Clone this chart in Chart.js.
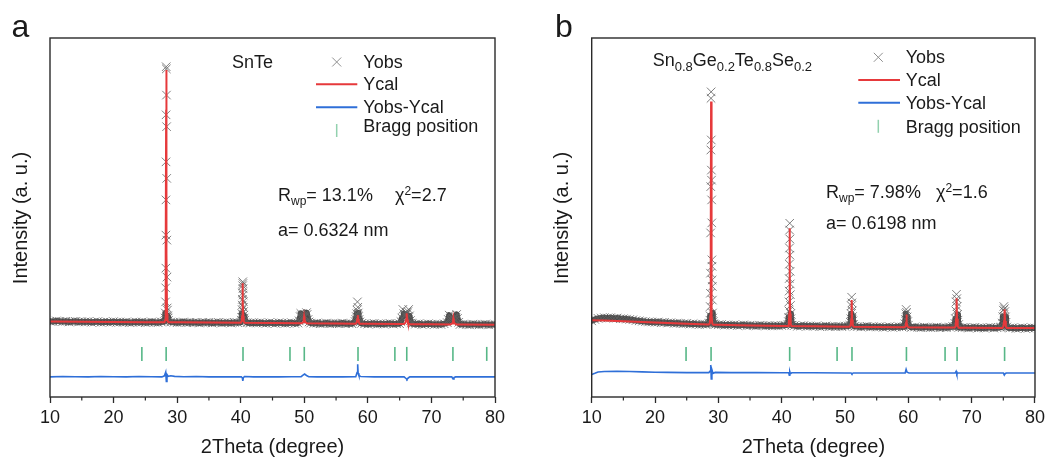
<!DOCTYPE html>
<html>
<head>
<meta charset="utf-8">
<script src="https://cdn.jsdelivr.net/npm/chart.js@4.4.1/dist/chart.umd.min.js"></script>
<style>
  html, body { margin: 0; padding: 0; background: #fff; }
  #wrap { position: relative; width: 1049px; height: 457px; overflow: hidden; }
  canvas { position: absolute; top: 0; }
  #panelA { left: 0; }
  #panelB { left: 525px; }
</style>
</head>
<body>
<div id="wrap">
  <canvas id="panelA" width="525" height="457"></canvas>
  <canvas id="panelB" width="524" height="457"></canvas>
</div>
<script>
// ---------------------------------------------------------------
// Rietveld refinement data (2Theta in degrees, intensity in a.u.)
// ---------------------------------------------------------------
const scanStart = 10, scanStep = 0.5;           // background scan grid
const xTicks = [10, 20, 30, 40, 50, 60, 70, 80];
const xMinorTicks = [15, 25, 35, 45, 55, 65, 75];

// --- SnTe ---
const obsBackgroundA = [
  21.1, 21.0, 21.2, 21.1, 21.0, 21.1, 20.9, 21.0, 21.1, 20.9,
  21.0, 20.9, 21.0, 20.8, 20.9, 21.0, 20.8, 20.9, 20.9, 20.8,
  21.0, 20.8, 20.9, 20.8, 20.9, 20.7, 20.8, 20.9, 20.8, 20.9,
  20.7, 20.8, 20.9, 20.8, 20.7, 20.9, 21.0, 21.1, 20.9, 20.8,
  20.7, 20.8, 20.9, 20.7, 20.8, 20.7, 20.8, 20.6, 20.8, 20.7,
  20.8, 20.6, 20.7, 20.8, 20.6, 20.7, 20.7, 20.6, 20.8, 20.7,
  20.8, 21.0, 20.7, 20.6, 20.7, 20.6, 20.7, 20.6, 20.5, 20.7,
  20.6, 20.5, 20.7, 20.6, 20.5, 20.6, 20.7, 20.5, 20.6, 20.8,
  20.9, 20.8, 20.6, 20.5, 20.6, 20.4, 20.5, 20.6, 20.4, 20.5,
  20.5, 20.4, 20.6, 20.4, 20.5, 20.4, 20.8, 20.9, 20.5, 20.4,
  20.3, 20.4, 20.5, 20.3, 20.4, 20.3, 20.4, 20.5, 20.3, 20.4,
  20.4, 20.6, 21.0, 21.2, 20.4, 20.3, 20.4, 20.2, 20.3, 20.4,
  20.3, 20.2, 20.3, 20.2, 20.4, 20.6, 20.8, 20.7, 20.3, 20.2,
  20.3, 20.2, 20.1, 20.3, 20.2, 20.1, 20.2, 20.3, 20.1, 20.2,
  20.2
];
const obsPeaksA = [
  [[28.10,22.0],[28.14,23.4],[28.18,26.5],[28.20,30.4],[28.22,35.9],[28.23,45.1],[28.24,54.9],
   [28.25,65.5],[28.26,78.6],[28.28,92.0],[28.30,91.4],[28.32,84.1],[28.34,75.3],[28.36,60.9],
   [28.38,43.7],[28.40,33.4],[28.43,24.8],[28.47,24.2],[28.52,22.6],[28.58,22.0],[28.64,21.3]],
  [[40.10,21.4],[40.16,22.2],[40.20,23.2],[40.22,24.3],[40.24,25.6],[40.26,27.2],[40.28,29.0],
   [40.30,31.0],[40.32,32.1],[40.34,31.6],[40.36,30.2],[40.38,28.4],[40.40,26.6],[40.42,25.0],
   [40.44,23.8],[40.48,22.8],[40.54,22.0],[40.62,21.4]],
  [[49.20,21.2],[49.35,22.4],[49.45,23.3],[49.55,22.6],[49.70,21.9],[49.85,22.3],[49.95,22.8],
   [50.05,22.6],[50.20,22.5],[50.35,23.5],[50.45,23.0],[50.60,21.6],[50.75,20.9]],
  [[58.00,21.0],[58.10,21.6],[58.18,22.4],[58.24,23.2],[58.30,24.2],[58.36,26.5],[58.42,25.0],
   [58.48,23.4],[58.54,22.4],[58.62,21.6],[58.75,20.9]],
  [[65.20,21.0],[65.35,22.0],[65.50,24.4],[65.65,23.2],[65.80,22.6],[65.95,23.0],[66.05,23.6],
   [66.15,23.2],[66.30,23.8],[66.42,24.4],[66.55,22.6],[66.70,21.3],[66.85,20.6]],
  [[72.50,20.7],[72.65,21.6],[72.80,22.8],[72.95,21.9],[73.15,21.3],[73.35,21.7],[73.50,21.9],
   [73.70,21.5],[73.85,22.2],[73.97,23.0],[74.10,21.9],[74.30,20.8]]
];
const calcBackgroundA = [[10,21.0],[15,20.95],[20,20.9],[25,20.85],[30,20.8],[35,20.75],[40,20.7],
  [45,20.6],[50,20.55],[55,20.45],[60,20.4],[65,20.35],[70,20.25],[75,20.2],[80,20.15]];
const calcPeaksA = [
  [[28.00,20.83],[28.10,21.4],[28.17,23.2],[28.23,40],[28.27,80],[28.29,91.1],[28.31,80],[28.35,40],[28.41,23.2],[28.48,21.4],[28.60,20.8]],
  [[40.00,20.7],[40.15,21.1],[40.22,22.5],[40.27,27],[40.31,31.7],[40.35,27],[40.40,22.5],[40.47,21.1],[40.60,20.69]],
  [[49.60,20.56],[49.80,20.85],[49.90,21.4],[49.97,22.4],[50.05,21.4],[50.15,20.85],[50.40,20.54]],
  [[58.10,20.42],[58.25,20.8],[58.34,21.7],[58.41,22.8],[58.48,21.7],[58.57,20.8],[58.70,20.41]],
  [[65.70,20.34],[65.90,20.7],[66.00,21.5],[66.10,23.3],[66.20,21.5],[66.30,20.7],[66.50,20.33]],
  [[73.00,20.22],[73.25,20.5],[73.38,21.0],[73.45,21.9],[73.52,21.0],[73.65,20.5],[73.90,20.21]]
];
const diffA = [[10,5.6],[12,5.7],[14,5.65],[16,5.6],[18,5.7],[20,5.65],[22,5.6],[24,5.7],[26,5.65],
  [27.6,5.6],[28.0,5.9],[28.2,6.9],[28.3,4.3],[28.4,6.3],[28.6,5.75],[29.0,5.9],[29.6,5.75],[31,5.65],
  [33,5.7],[35,5.6],[37,5.65],[39,5.6],[40.1,5.65],[40.25,5.35],[40.33,4.5],[40.42,5.4],[40.6,5.7],
  [42,5.6],[44,5.65],[46,5.6],[48,5.65],[49.5,5.65],[49.8,6.1],[50.05,6.4],[50.35,6.0],[50.7,5.65],
  [52,5.6],[54,5.65],[56,5.6],[58.1,5.65],[58.3,6.8],[58.4,9.1],[58.47,6.6],[58.6,5.9],[58.9,5.7],
  [61,5.6],[63,5.65],[65.7,5.6],[66.0,5.15],[66.15,4.9],[66.35,5.3],[66.6,5.6],[68,5.6],[70,5.65],
  [72,5.6],[73.2,5.6],[73.4,5.0],[73.55,5.4],[73.8,5.6],[76,5.65],[78,5.6],[80,5.6]];
const braggA = [24.45, 28.27, 40.36, 47.75, 50.0, 58.45, 64.25, 66.12, 73.38, 78.7];

// --- Sn0.8Ge0.2Te0.8Se0.2 ---
const obsBackgroundB = [
  21.2, 21.6, 21.9, 22.0, 22.1, 22.0, 22.1, 21.9, 22.0, 21.8,
  21.8, 21.7, 21.6, 21.5, 21.3, 21.2, 21.1, 21.0, 20.9, 20.9,
  20.8, 20.9, 20.7, 20.8, 20.6, 20.7, 20.5, 20.6, 20.5, 20.4,
  20.5, 20.3, 20.4, 20.3, 20.2, 20.3, 20.2, 20.4, 20.5, 20.2,
  20.1, 20.2, 20.0, 20.1, 20.0, 20.1, 19.9, 20.0, 20.1, 19.9,
  20.0, 19.9, 19.8, 20.0, 19.9, 19.8, 19.9, 19.8, 19.9, 19.8,
  19.9, 20.0, 20.1, 19.8, 19.9, 19.7, 19.8, 19.9, 19.7, 19.8,
  19.7, 19.8, 19.6, 19.7, 19.8, 19.6, 19.7, 19.6, 19.7, 19.6,
  19.7, 19.8, 19.9, 19.7, 19.6, 19.5, 19.6, 19.7, 19.5, 19.6,
  19.5, 19.6, 19.4, 19.5, 19.6, 19.4, 19.5, 19.6, 19.5, 19.7,
  19.6, 19.4, 19.5, 19.4, 19.3, 19.5, 19.4, 19.3, 19.4, 19.5,
  19.3, 19.4, 19.3, 19.5, 19.6, 19.8, 19.4, 19.3, 19.4, 19.2,
  19.3, 19.4, 19.2, 19.3, 19.2, 19.3, 19.4, 19.2, 19.3, 19.4,
  19.6, 19.5, 19.2, 19.3, 19.1, 19.2, 19.3, 19.1, 19.2, 19.3,
  19.2
];
const obsPeaksB = [
  [[28.60,20.6],[28.66,21.4],[28.70,22.6],[28.72,25.2],[28.74,28.9],[28.76,34.5],[28.78,45.7],
   [28.80,58.6],[28.82,68.8],[28.84,83.2],[28.86,85.0],[28.88,71.6],[28.90,63.2],[28.92,60.4],
   [28.94,54.9],[28.96,48.5],[28.98,38.2],[29.00,36.4],[29.02,32.6],[29.04,30.8],[29.06,27.0],
   [29.08,23.4],[29.12,22.0],[29.18,21.0],[29.26,20.4]],
  [[41.00,20.2],[41.06,21.0],[41.10,22.2],[41.13,24.0],[41.15,26.5],[41.17,29.5],[41.19,33.0],
   [41.21,37.0],[41.23,41.5],[41.25,46.5],[41.27,48.4],[41.29,44.0],[41.31,39.5],[41.33,35.0],
   [41.35,31.5],[41.37,28.5],[41.39,25.5],[41.42,23.2],[41.46,21.8],[41.52,20.8],[41.60,20.0]],
  [[50.75,20.0],[50.85,20.8],[50.92,21.8],[50.97,23.2],[51.01,25.4],[51.05,27.8],[51.09,26.2],
   [51.13,24.0],[51.18,22.4],[51.25,21.2],[51.35,20.2]],
  [[59.35,19.6],[59.45,20.4],[59.53,21.6],[59.60,23.2],[59.66,24.4],[59.72,23.6],[59.80,22.3],
   [59.90,21.0],[60.00,20.0]],
  [[67.25,19.6],[67.35,20.5],[67.43,21.8],[67.50,24.0],[67.56,26.5],[67.60,28.6],[67.65,27.4],
   [67.70,25.2],[67.76,23.0],[67.84,21.4],[67.95,20.2]],
  [[74.70,19.5],[74.82,20.6],[74.92,22.4],[75.00,24.2],[75.08,25.2],[75.16,24.6],[75.24,23.8],
   [75.32,22.3],[75.42,20.8],[75.55,19.5]]
];
const calcBackgroundB = [[10,21.4],[12,21.3],[15,21.1],[20,20.75],[25,20.4],[30,20.1],[35,19.95],
  [40,19.8],[45,19.7],[50,19.6],[55,19.5],[60,19.45],[65,19.35],[70,19.3],[75,19.22],[80,19.2]];
const calcPeaksB = [
  [[28.50,20.2],[28.65,20.5],[28.74,22.6],[28.80,45],[28.85,82.3],[28.90,45],[28.96,22.6],[29.05,20.4],[29.20,20.15]],
  [[41.00,19.78],[41.12,20.3],[41.20,23.2],[41.24,35],[41.27,47.0],[41.30,35],[41.34,23.2],[41.42,20.3],[41.55,19.77]],
  [[50.70,19.6],[50.88,19.9],[50.98,21.5],[51.05,27.0],[51.12,21.5],[51.22,19.9],[51.40,19.58]],
  [[59.40,19.46],[59.55,19.7],[59.64,20.7],[59.70,23.0],[59.76,20.7],[59.85,19.7],[60.00,19.45]],
  [[67.30,19.33],[67.45,19.7],[67.55,21.8],[67.62,27.5],[67.69,21.8],[67.80,19.7],[67.95,19.32]],
  [[74.85,19.23],[75.00,19.6],[75.12,21.2],[75.20,24.4],[75.28,21.2],[75.40,19.6],[75.55,19.22]]
];
const diffB = [[10,6.3],[10.5,6.6],[11,6.95],[12,7.1],[14,7.15],[16,7.1],[18,7.0],[20,6.9],[22,6.85],
  [25,6.8],[28.5,6.8],[28.7,7.2],[28.8,8.9],[28.88,5.0],[28.98,7.6],[29.15,6.6],[29.5,6.85],[32,6.8],
  [36,6.8],[40,6.75],[41.1,6.8],[41.2,6.1],[41.28,7.1],[41.38,6.5],[41.6,6.75],[45,6.75],[50,6.7],
  [50.95,6.7],[51.1,6.45],[51.3,6.7],[55,6.7],[59.5,6.7],[59.65,7.7],[59.8,6.9],[60.1,6.7],[63,6.7],
  [67.4,6.7],[67.55,7.15],[67.66,6.35],[67.8,6.7],[72,6.7],[75.0,6.7],[75.15,6.1],[75.3,6.55],
  [75.5,6.7],[80,6.7]];
const braggB = [24.9, 28.85, 41.26, 48.75, 51.1, 59.7, 65.8, 67.7, 75.2];

// ---------------------------------------------------------------
// Styling
// ---------------------------------------------------------------
const FONT = '"Liberation Sans", Arial, Helvetica, sans-serif';
const INK = '#1a1a1a';
const FRAME = '#2a2a2a';
const BAND = '#4a4a4a';
const CROSS = 'rgba(95,95,95,0.8)';
const RED = '#e6393b';
const BLUE = '#2f6fd8';
const GREEN = 'rgba(45,165,105,0.8)';
const BAND_CUT = 23.5;    // above this the scan is drawn as separate markers only
const BRAGG_LEVEL = 12;   // vertical level of the reflection markers

// merge a background scan with the dense peak scans
function mergeScan(background, peaks) {
  const windows = peaks.map(p => [p[0][0], p[p.length - 1][0]]);
  const pts = [];
  background.forEach(([x, y]) => {
    if (!windows.some(([a, b]) => x >= a && x <= b)) pts.push({ x, y });
  });
  peaks.forEach(p => p.forEach(([x, y]) => pts.push({ x, y })));
  return pts.sort((p, q) => p.x - q.x);
}

function drawRuns(ctx, x, y, runs) {
  ctx.textAlign = 'left';
  ctx.textBaseline = 'alphabetic';
  for (const r of runs) {
    ctx.font = r.size + 'px ' + FONT;
    if (r.at !== undefined) x = r.at;
    ctx.fillText(r.t, x, y + (r.dy || 0));
    x += ctx.measureText(r.t).width;
  }
}

function decorPlugin(p) {
  return {
    id: 'decor',
    afterDraw(chart) {
      const { ctx, chartArea: a, scales: { x } } = chart;
      ctx.save();
      // plot frame
      ctx.strokeStyle = FRAME;
      ctx.lineWidth = 1.4;
      ctx.strokeRect(a.left, a.top, a.right - a.left, a.bottom - a.top);
      // minor ticks
      ctx.lineWidth = 1.2;
      xMinorTicks.forEach(v => {
        const px = x.getPixelForValue(v);
        ctx.beginPath();
        ctx.moveTo(px, a.bottom);
        ctx.lineTo(px, a.bottom + 3.5);
        ctx.stroke();
      });

      // legend
      const L = p.legend;
      ctx.strokeStyle = '#8f8f8f';
      ctx.lineWidth = 1;
      ctx.beginPath();
      ctx.moveTo(L.markX - 4.5, L.rows[0] - 4.5); ctx.lineTo(L.markX + 4.5, L.rows[0] + 4.5);
      ctx.moveTo(L.markX - 4.5, L.rows[0] + 4.5); ctx.lineTo(L.markX + 4.5, L.rows[0] - 4.5);
      ctx.stroke();
      ctx.lineWidth = 2;
      ctx.strokeStyle = RED;
      ctx.beginPath(); ctx.moveTo(L.line0, L.rows[1]); ctx.lineTo(L.line1, L.rows[1]); ctx.stroke();
      ctx.strokeStyle = BLUE;
      ctx.beginPath(); ctx.moveTo(L.line0, L.rows[2]); ctx.lineTo(L.line1, L.rows[2]); ctx.stroke();
      ctx.strokeStyle = 'rgba(100,190,140,0.7)';
      ctx.lineWidth = 1.5;
      ctx.beginPath(); ctx.moveTo(L.markX, L.rows[3] - 6.5); ctx.lineTo(L.markX, L.rows[3] + 6.5); ctx.stroke();

      ctx.fillStyle = INK;
      ctx.font = '18px ' + FONT;
      ctx.textAlign = 'left';
      ctx.textBaseline = 'alphabetic';
      ['Yobs', 'Ycal', 'Yobs-Ycal', 'Bragg position'].forEach((t, i) => ctx.fillText(t, L.textX, L.base[i]));

      // sample name and refinement results
      drawRuns(ctx, p.name.x, p.name.y, p.name.runs);
      drawRuns(ctx, p.fit.x, p.fit.y, p.fit.runs);
      drawRuns(ctx, p.fit.x, p.cell.y, [{ t: p.cell.t, size: 18 }]);

      // axis titles
      ctx.font = '20px ' + FONT;
      ctx.textAlign = 'center';
      ctx.textBaseline = 'alphabetic';
      ctx.fillText('2Theta (degree)', (a.left + a.right) / 2, 452.5);
      ctx.save();
      ctx.translate(p.yTitleX, (a.top + a.bottom) / 2 + 0.5);
      ctx.rotate(-Math.PI / 2);
      ctx.textBaseline = 'middle';
      ctx.fillText('Intensity (a. u.)', 0, 0);
      ctx.restore();

      // panel letter
      ctx.font = '32px ' + FONT;
      ctx.textAlign = 'left';
      ctx.textBaseline = 'alphabetic';
      ctx.fillText(p.letter, p.letterX, 36.5);
      ctx.restore();
    }
  };
}

function buildPanel(canvasId, d, p) {
  const obs = mergeScan(d.obsBackground.map((y, i) => [scanStart + i * scanStep, y]), d.obsPeaks);
  const cal = mergeScan(d.calcBackground, d.calcPeaks);
  const diff = d.diff.map(([x, y]) => ({ x, y }));
  const bragg = d.bragg.map(x => ({ x, y: BRAGG_LEVEL }));

  return new Chart(document.getElementById(canvasId), {
    type: 'scatter',
    data: {
      datasets: [
        {
          label: 'Yobs', data: obs, order: 3, showLine: true,
          borderColor: BAND, borderWidth: 6, borderJoinStyle: 'round', borderCapStyle: 'round',
          segment: {
            borderColor: c => (c.p0.parsed.y > BAND_CUT || c.p1.parsed.y > BAND_CUT) ? 'rgba(0,0,0,0)' : undefined
          },
          pointStyle: 'crossRot', pointRadius: 6, pointBorderWidth: 1,
          pointBorderColor: CROSS, pointBackgroundColor: 'rgba(0,0,0,0)'
        },
        { label: 'Ycal', data: cal, order: 2, showLine: true, borderColor: RED, borderWidth: 2, pointRadius: 0 },
        { label: 'Yobs-Ycal', data: diff, order: 1, showLine: true, borderColor: BLUE, borderWidth: 1.6, pointRadius: 0 },
        {
          label: 'Bragg position', data: bragg, order: 0, showLine: false,
          pointStyle: 'line', pointRotation: 90, pointRadius: 7, pointBorderWidth: 1.6, pointBorderColor: GREEN
        }
      ]
    },
    options: {
      animation: false,
      responsive: false,
      events: [],
      layout: { padding: { left: p.padL, right: p.padR, top: 38, bottom: 24.4 } },
      plugins: { legend: { display: false }, tooltip: { enabled: false } },
      scales: {
        x: {
          type: 'linear', min: 10, max: 80,
          border: { display: false },
          grid: { display: true, drawOnChartArea: false, drawTicks: true, tickLength: 6, tickWidth: 1.3, tickColor: FRAME },
          ticks: {
            stepSize: 10, padding: 4, color: INK, maxRotation: 0, autoSkip: false,
            font: { family: FONT, size: 18 },
            callback: v => xTicks.includes(v) ? String(v) : ''
          }
        },
        y: { display: false, min: 0, max: 100 }
      }
    },
    plugins: [decorPlugin(p)]
  });
}

buildPanel('panelA',
  { obsBackground: obsBackgroundA, obsPeaks: obsPeaksA, calcBackground: calcBackgroundA,
    calcPeaks: calcPeaksA, diff: diffA, bragg: braggA },
  {
    padL: 50, padR: 30, letter: 'a', letterX: 11.5, yTitleX: 21,
    legend: { markX: 336.7, textX: 363.3, line0: 316, line1: 357.3,
              rows: [62, 84.3, 107.3, 130.5], base: [68, 90, 113.3, 131.7] },
    name: { x: 232, y: 68, runs: [{ t: 'SnTe', size: 18 }] },
    fit: { x: 278, y: 201, runs: [
      { t: 'R', size: 18 }, { t: 'wp', size: 12, dy: 4 }, { t: '= 13.1%', size: 18 },
      { t: 'χ', size: 18, at: 395 }, { t: '2', size: 12, dy: -6 }, { t: '=2.7', size: 18 }] },
    cell: { y: 235.5, t: 'a= 0.6324 nm' }
  });

buildPanel('panelB',
  { obsBackground: obsBackgroundB, obsPeaks: obsPeaksB, calcBackground: calcBackgroundB,
    calcPeaks: calcPeaksB, diff: diffB, bragg: braggB },
  {
    padL: 66.7, padR: 11.7, letter: 'b', letterX: 30, yTitleX: 37.5,
    legend: { markX: 353.3, textX: 380.7, line0: 333.3, line1: 375,
              rows: [57.3, 80, 102.7, 126.3], base: [63.3, 86, 109.3, 132.7] },
    name: { x: 127.7, y: 65.5, runs: [
      { t: 'Sn', size: 18 }, { t: '0.8', size: 13, dy: 5 }, { t: 'Ge', size: 18 }, { t: '0.2', size: 13, dy: 5 },
      { t: 'Te', size: 18 }, { t: '0.8', size: 13, dy: 5 }, { t: 'Se', size: 18 }, { t: '0.2', size: 13, dy: 5 }] },
    fit: { x: 301, y: 198, runs: [
      { t: 'R', size: 18 }, { t: 'wp', size: 12, dy: 4 }, { t: '= 7.98%', size: 18 },
      { t: 'χ', size: 18, at: 411 }, { t: '2', size: 12, dy: -6 }, { t: '=1.6', size: 18 }] },
    cell: { y: 229, t: 'a= 0.6198 nm' }
  });
</script>
</body>
</html>
